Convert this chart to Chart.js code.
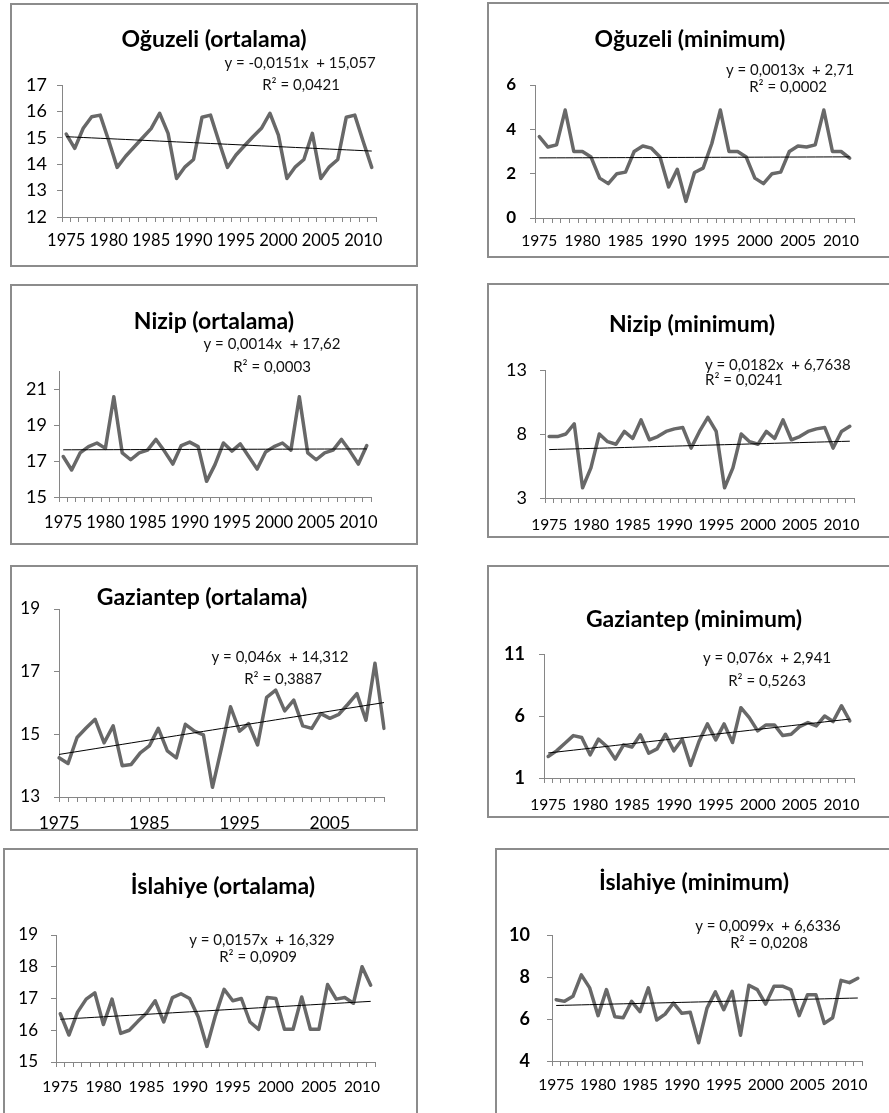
<!DOCTYPE html>
<html>
<head>
<meta charset="utf-8">
<script src="https://cdn.jsdelivr.net/npm/chart.js@4.4.1/dist/chart.umd.min.js"></script>
<style>
  html, body { margin: 0; padding: 0; background: #fff; }
  body { width: 889px; height: 1113px; overflow: hidden; position: relative; }
  canvas { position: absolute; }
  .frame { position: absolute; box-sizing: border-box; border: 2px solid #8c8c8c; pointer-events: none; }
</style>
</head>
<body>
<script>
// Years on the category axis
const years = [1975, 1976, 1977, 1978, 1979, 1980, 1981, 1982, 1983, 1984,
               1985, 1986, 1987, 1988, 1989, 1990, 1991, 1992, 1993, 1994,
               1995, 1996, 1997, 1998, 1999, 2000, 2001, 2002, 2003, 2004,
               2005, 2006, 2007, 2008, 2009, 2010, 2011];

// Annual temperature series (°C)
const oguzeliOrt = [15.14, 14.6, 15.36, 15.8, 15.86, 14.9, 13.88, 14.3, 14.65, 15.0,
                    15.35, 15.93, 15.17, 13.46, 13.9, 14.18, 15.78, 15.86, 14.85, 13.88,
                    14.35, 14.7, 15.04, 15.36, 15.93, 15.1, 13.46, 13.9, 14.18, 15.17,
                    13.46, 13.9, 14.18, 15.78, 15.86, 14.85, 13.88];
const oguzeliMin = [3.67, 3.2, 3.3, 4.87, 3.0, 3.0, 2.75, 1.8, 1.55, 2.0,
                    2.07, 3.0, 3.25, 3.15, 2.75, 1.4, 2.2, 0.75, 2.05, 2.25,
                    3.35, 4.87, 3.0, 3.0, 2.75, 1.8, 1.55, 2.0, 2.07, 3.0,
                    3.25, 3.2, 3.3, 4.87, 3.0, 3.0, 2.7];
const nizipOrt = [17.25, 16.5, 17.45, 17.8, 18.0, 17.7, 20.57, 17.45, 17.07, 17.45,
                  17.6, 18.2, 17.55, 16.83, 17.86, 18.05, 17.8, 15.87, 16.8, 18.0,
                  17.55, 17.95, 17.25, 16.55, 17.5, 17.8, 18.0, 17.6, 20.57, 17.45,
                  17.07, 17.45, 17.6, 18.2, 17.55, 16.83, 17.86];
const nizipMin = [7.8, 7.8, 8.0, 8.8, 3.8, 5.35, 8.0, 7.4, 7.2, 8.2,
                  7.65, 9.1, 7.55, 7.8, 8.2, 8.4, 8.5, 6.9, 8.2, 9.3,
                  8.2, 3.8, 5.35, 8.0, 7.4, 7.2, 8.2, 7.65, 9.1, 7.55,
                  7.8, 8.2, 8.4, 8.5, 6.9, 8.2, 8.6];
const gaziantepOrt = [14.25, 14.07, 14.9, 15.2, 15.48, 14.73, 15.27, 14.0, 14.04, 14.41,
                      14.63, 15.19, 14.47, 14.25, 15.32, 15.1, 14.98, 13.31, 14.57, 15.88,
                      15.1, 15.34, 14.66, 16.18, 16.41, 15.75, 16.09, 15.27, 15.19, 15.66,
                      15.51, 15.64, 15.96, 16.3, 15.45, 17.27, 15.19];
const gaziantepMin = [2.74, 3.19, 3.8, 4.42, 4.26, 2.87, 4.13, 3.54, 2.52, 3.67,
                      3.49, 4.48, 3.0, 3.35, 4.53, 3.19, 4.13, 2.02, 3.94, 5.36,
                      4.07, 5.36, 3.86, 6.67, 5.87, 4.8, 5.28, 5.28, 4.42, 4.53,
                      5.14, 5.47, 5.2, 6.0, 5.55, 6.83, 5.6];
const islahiyeOrt = [16.52, 15.85, 16.57, 16.98, 17.18, 16.18, 16.98, 15.9, 16.0, 16.28,
                     16.54, 16.93, 16.26, 17.03, 17.15, 17.0, 16.42, 15.49, 16.47, 17.29,
                     16.93, 17.0, 16.26, 16.03, 17.03, 17.0, 16.03, 16.03, 17.05, 16.03,
                     16.03, 17.44, 16.98, 17.03, 16.85, 18.0, 17.42];
const islahiyeMin = [6.92, 6.84, 7.08, 8.1, 7.48, 6.16, 7.4, 6.11, 6.06, 6.84,
                     6.35, 7.48, 5.95, 6.23, 6.76, 6.27, 6.32, 4.87, 6.52, 7.29,
                     6.44, 7.32, 5.23, 7.61, 7.4, 6.71, 7.56, 7.56, 7.4, 6.16,
                     7.16, 7.16, 5.79, 6.06, 7.84, 7.73, 7.94];

// Linear trend coefficients (x = 1 for 1975) and R² per panel
const trendSlopes     = [-0.0151, 0.0013, 0.0014, 0.0182, 0.046, 0.076, 0.0157, 0.0099];
const trendIntercepts = [15.057, 2.71, 17.62, 6.7638, 14.312, 2.941, 16.329, 6.6336];
const rSquared        = [0.0421, 0.0002, 0.0003, 0.0241, 0.3887, 0.5263, 0.0909, 0.0208];

const titles = ['Oğuzeli (ortalama)', 'Oğuzeli (minimum)', 'Nizip (ortalama)', 'Nizip (minimum)',
                'Gaziantep (ortalama)', 'Gaziantep (minimum)', 'İslahiye (ortalama)', 'İslahiye (minimum)'];
const series = [oguzeliOrt, oguzeliMin, nizipOrt, nizipMin, gaziantepOrt, gaziantepMin, islahiyeOrt, islahiyeMin];

// Axis ranges: [min, max, step]
const yRanges = [[12, 17, 1], [0, 6, 2], [15, 22, 2], [3, 13, 5], [13, 19, 2], [1, 11, 5], [15, 19, 1], [4, 10, 2]];

// Page layout of each panel
const layouts = [
  { box: {x: 10, y: 3, w: 408, h: 264},   area: {l: 62, t: 85, r: 376, b: 217},
    title: [214, 40], eq: [[300, 63], [301, 85]], align: 'center', yPad: 10, xPad: 9, yFont: {size: 18}, xFont: 16.5, every: 5, offset: true },
  { box: {x: 487, y: 2, w: 410, h: 256},  area: {l: 535, t: 85, r: 854, b: 218},
    title: [690, 40], eq: [[790, 70], [788, 87]], align: 'center', yPad: 14, xPad: 9, yFont: {size: 17, weight: 'bold'}, xFont: 15.5, every: 5, offset: true },
  { box: {x: 10, y: 284, w: 408, h: 261}, area: {l: 59, t: 371, r: 371, b: 497},
    title: [214, 322], eq: [[272, 344], [272, 367]], align: 'center', yPad: 7, xPad: 11, yFont: {size: 18}, xFont: 16.5, every: 5, offset: true },
  { box: {x: 487, y: 283, w: 410, h: 255}, area: {l: 545, t: 370, r: 854, b: 498},
    title: [692, 325], eq: [[705, 365], [705, 380]], align: 'left', yPad: 13, xPad: 13, yFont: {size: 18}, xFont: 15.5, every: 5, offset: true },
  { box: {x: 10, y: 565, w: 408, h: 266}, area: {l: 59, t: 609, r: 384, b: 797},
    title: [202, 598], eq: [[280, 657], [283, 679]], align: 'center', yPad: 14, xPad: 11, yFont: {size: 17}, xFont: 17.5, every: 10, offset: false },
  { box: {x: 487, y: 565, w: 410, h: 253}, area: {l: 544, t: 654, r: 854, b: 778},
    title: [694, 620], eq: [[767, 658], [767, 681]], align: 'center', yPad: 14, xPad: 13, yFont: {size: 18, weight: 'bold'}, xFont: 15.5, every: 5, offset: true },
  { box: {x: 3, y: 848, w: 415, h: 280},  area: {l: 56, t: 935, r: 375, b: 1062},
    title: [223, 887], eq: [[262, 940], [258, 957]], align: 'center', yPad: 13, xPad: 11, yFont: {size: 17}, xFont: 15.5, every: 5, offset: true },
  { box: {x: 495, y: 848, w: 410, h: 280}, area: {l: 552, t: 935, r: 862, b: 1061},
    title: [694, 883], eq: [[768, 926], [769, 943]], align: 'center', yPad: 17, xPad: 10, yFont: {size: 18, weight: 'bold'}, xFont: 15.5, every: 5, offset: true }
];

const FONT = 'Lato, "Open Sans", sans-serif';
const AXIS = '#868686';
const comma = v => String(v).replace('.', ',');

// Draws the panel heading and the trend equation as canvas text
const panelText = {
  id: 'panelText',
  afterDraw(chart, args, opts) {
    const ctx = chart.ctx;
    const L = opts.layout;
    ctx.save();
    ctx.fillStyle = '#000';
    ctx.textBaseline = 'middle';
    ctx.textAlign = 'center';
    ctx.font = 'bold 23px ' + FONT;
    ctx.fillText(opts.title, L.title[0] - L.box.x, L.title[1] - L.box.y);
    ctx.font = '15px ' + FONT;
    ctx.fillStyle = '#111';
    ctx.textAlign = L.align;
    opts.lines.forEach((t, i) => ctx.fillText(t, L.eq[i][0] - L.box.x, L.eq[i][1] - L.box.y));
    ctx.restore();
  }
};

series.forEach((values, k) => {
  const L = layouts[k];
  const [yMin, yMax, yStep] = yRanges[k];

  const canvas = document.createElement('canvas');
  canvas.width = L.box.w;
  canvas.height = L.box.h;
  canvas.style.left = L.box.x + 'px';
  canvas.style.top = L.box.y + 'px';
  document.body.appendChild(canvas);

  const frame = document.createElement('div');
  frame.className = 'frame';
  Object.assign(frame.style, { left: L.box.x + 'px', top: L.box.y + 'px', width: L.box.w + 'px', height: L.box.h + 'px' });
  document.body.appendChild(frame);

  const trend = years.map((_, i) => trendSlopes[k] * (i + 1) + trendIntercepts[k]);
  const lines = ['y = ' + comma(trendSlopes[k]) + 'x  + ' + comma(trendIntercepts[k]),
                 'R² = ' + comma(rSquared[k])];

  new Chart(canvas, {
    type: 'line',
    data: {
      labels: years,
      datasets: [
        { data: values, borderColor: '#686868', borderWidth: 3.5, pointRadius: 0, tension: 0,
          borderJoinStyle: 'round', borderCapStyle: 'round', order: 2 },
        { data: trend, borderColor: '#000', borderWidth: 1, pointRadius: 0, tension: 0, order: 1 }
      ]
    },
    options: {
      responsive: false,
      animation: false,
      devicePixelRatio: 1,
      layout: { padding: { top: L.area.t - L.box.y, right: L.box.x + L.box.w - L.area.r, left: 0, bottom: 0 } },
      plugins: {
        legend: { display: false },
        tooltip: { enabled: false },
        panelText: { title: titles[k], lines: lines, layout: L }
      },
      scales: {
        x: {
          type: 'category',
          offset: L.offset,
          grid: { drawOnChartArea: false, drawTicks: true, tickLength: 5, color: AXIS, offset: L.offset },
          border: { display: true, color: AXIS, width: 1 },
          ticks: {
            autoSkip: false, maxRotation: 0, minRotation: 0, padding: L.xPad, color: '#000',
            font: { family: FONT, size: L.xFont },
            callback: (v, i) => ((years[i] - years[0]) % L.every === 0 ? String(years[i]) : '')
          },
          afterFit: s => { s.height = L.box.y + L.box.h - L.area.b; }
        },
        y: {
          min: yMin, max: yMax,
          grid: { drawOnChartArea: false, drawTicks: true, tickLength: 5, color: AXIS },
          border: { display: true, color: AXIS, width: 1 },
          ticks: { padding: L.yPad, color: '#000', font: Object.assign({ family: FONT }, L.yFont) },
          afterBuildTicks: s => {
            const t = [];
            for (let v = yMin; v <= yMax + 1e-9; v += yStep) t.push({ value: v });
            s.ticks = t;
          },
          afterFit: s => { s.width = L.area.l - L.box.x; }
        }
      }
    },
    plugins: [panelText]
  });
});
</script>
</body>
</html>
